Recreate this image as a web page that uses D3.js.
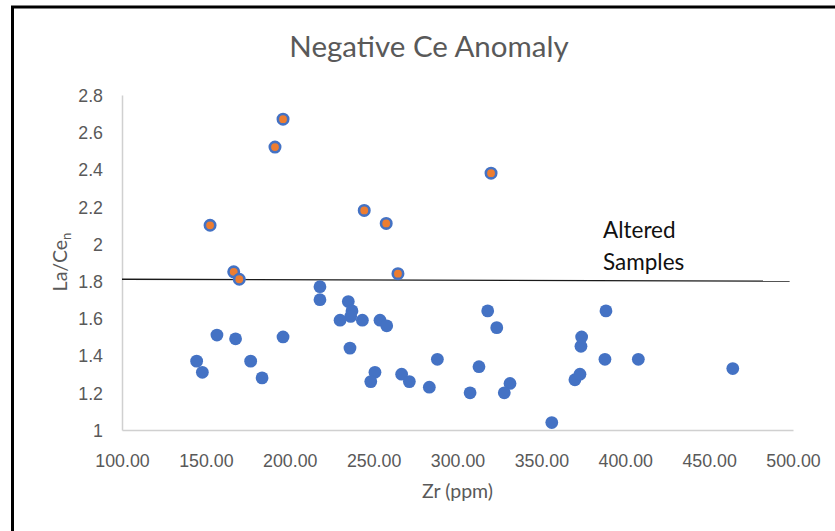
<!DOCTYPE html>
<html>
<head>
<meta charset="utf-8">
<script src="https://cdn.jsdelivr.net/npm/d3@7"></script>
<style>
  body { margin: 0; background: #fff; }
  svg { display: block; font-family: Lato, "Open Sans", sans-serif; }
  .axis path { stroke: #d0d0d0; stroke-width: 1.5; }
  .axis line { display: none; }
  .axis text { fill: #595959; }
</style>
</head>
<body>
<div class="chart"></div>
<script>
"use strict";

// Zr (ppm) vs La/Ce_n, normal samples
var blueZr = [144.5, 147.9, 156.6, 167.7, 176.7, 183.5, 196.0, 218.0, 218.0, 234.9,
              237.1, 236.3, 230.0, 243.3, 235.9, 253.8, 257.8, 250.8, 248.3, 266.7,
              271.3, 283.2, 288.0, 307.5, 312.8, 318.0, 323.4, 331.3, 327.9, 356.2,
              370.0, 373.0, 373.6, 374.0, 388.5, 387.9, 407.8, 464.1];
var blueLaCe = [1.37, 1.31, 1.51, 1.49, 1.37, 1.28, 1.50, 1.77, 1.70, 1.69,
                1.64, 1.61, 1.59, 1.59, 1.44, 1.59, 1.56, 1.31, 1.26, 1.30,
                1.26, 1.23, 1.38, 1.20, 1.34, 1.64, 1.55, 1.25, 1.20, 1.04,
                1.27, 1.30, 1.45, 1.50, 1.64, 1.38, 1.38, 1.33];

// altered samples (above the line)
var altZr = [196.0, 191.2, 152.5, 244.4, 257.5, 166.6, 169.9, 264.5, 320.0];
var altLaCe = [2.67, 2.52, 2.10, 2.18, 2.11, 1.85, 1.81, 1.84, 2.38];

var xTicks = [100, 150, 200, 250, 300, 350, 400, 450, 500];
var yTicks = [1, 1.2, 1.4, 1.6, 1.8, 2, 2.2, 2.4, 2.6, 2.8];

// hand drawn cut-off line
var cutZr = [100, 498];
var cutLaCe = [1.81, 1.80];

var width = 835,
    height = 531;

var svg = d3.select(".chart")
            .append("svg")
            .attr("width", width)
            .attr("height", height)

svg.append("rect")
    .attr("width", width)
    .attr("height", height)
    .attr("fill", "#fff")

// black frame (cropped screenshot, only top and left visible)
svg.append("path")
    .attr("d", "M12.5," + height + "V7H" + width)
    .attr("fill", "none")
    .attr("stroke", "#000")
    .attr("stroke-width", 3)

var x = d3.scaleLinear().domain([100, 500]).range([122, 793]);
var y = d3.scaleLinear().domain([1, 2.8]).range([430, 95]);

svg.append("text")
    .attr("x", 429)
    .attr("y", 57)
    .attr("text-anchor", "middle")
    .attr("fill", "#595959")
    .style("font-size", "29.5px")
    .text("Negative Ce Anomaly")

var xAxis = svg.append("g")
    .attr("class", "axis")
    .attr("transform", "translate(0,430)")
    .call(d3.axisBottom(x).tickValues(xTicks).tickSizeOuter(0)
          .tickFormat(function(d){ return d.toFixed(2); }))

xAxis.selectAll("text")
    .attr("y", 37)
    .attr("dy", 0)
    .style("font-size", "17.8px")

var yAxis = svg.append("g")
    .attr("class", "axis")
    .attr("transform", "translate(122,0)")
    .call(d3.axisLeft(y).tickValues(yTicks).tickSizeOuter(0)
          .tickFormat(function(d){ return String(+d.toFixed(1)); }))

yAxis.selectAll("text")
    .attr("x", -19)
    .attr("dy", "0.36em")
    .style("font-size", "17.8px")

xAxis.select(".domain").attr("stroke", "#d0d0d0")
yAxis.select(".domain").attr("stroke", "#d0d0d0")

// axis titles
svg.append("text")
    .attr("x", 457.5)
    .attr("y", 498)
    .attr("text-anchor", "middle")
    .attr("fill", "#595959")
    .style("font-size", "19.5px")
    .text("Zr (ppm)")

var yTitle = svg.append("text")
    .attr("transform", "translate(67,262) rotate(-90)")
    .attr("text-anchor", "middle")
    .attr("fill", "#595959")
    .style("font-size", "19.5px")
yTitle.append("tspan").text("La/Ce")
yTitle.append("tspan")
    .attr("dy", 4)
    .style("font-size", "13px")
    .text("n")

// cut-off line
svg.append("line")
    .attr("x1", x(cutZr[0]))
    .attr("y1", y(cutLaCe[0]))
    .attr("x2", x(cutZr[1]))
    .attr("y2", y(cutLaCe[1]))
    .attr("stroke", "#1a1a1a")
    .attr("stroke-width", 1.3)

svg.append("text")
    .attr("x", 603)
    .attr("y", 238)
    .attr("fill", "#111")
    .style("font-size", "22.5px")
    .text("Altered")
svg.append("text")
    .attr("x", 603)
    .attr("y", 270)
    .attr("fill", "#111")
    .style("font-size", "22.5px")
    .text("Samples")

// points
svg.append("g")
    .selectAll("circle")
    .data(d3.range(blueZr.length))
    .enter().append("circle")
        .attr("cx", function(i){ return x(blueZr[i]); })
        .attr("cy", function(i){ return y(blueLaCe[i]); })
        .attr("r", 6.4)
        .attr("fill", "#4472c4")

svg.append("g")
    .selectAll("circle")
    .data(d3.range(altZr.length))
    .enter().append("circle")
        .attr("cx", function(i){ return x(altZr[i]); })
        .attr("cy", function(i){ return y(altLaCe[i]); })
        .attr("r", 5.2)
        .attr("fill", "#ed7d31")
        .attr("stroke", "#4472c4")
        .attr("stroke-width", 2.6)
</script>
</body>
</html>
